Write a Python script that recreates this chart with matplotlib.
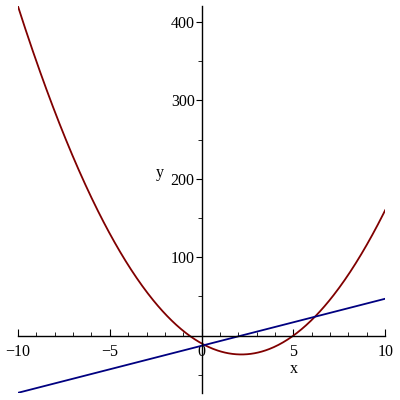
import numpy as np
import matplotlib.pyplot as plt
from matplotlib.ticker import MultipleLocator

# polynomial coefficients (highest power first)
parabola_coef = [3, -13, -10]
line_coef = [6, -13]
x_range = [-10, 10]
x_ticks = [-10, -5, 0, 5, 10]
y_ticks = [100, 200, 300, 400]

plt.rcParams['font.family'] = ['Liberation Serif', 'DejaVu Serif']

fig = plt.figure(figsize=(4, 4), dpi=100)
ax = fig.add_axes([0.045, 0.018, 0.918, 0.968])

xs = np.linspace(x_range[0], x_range[1], 400)
ax.plot(xs, np.polyval(parabola_coef, xs), color='#800000', lw=1.3)
ax.plot(xs, np.polyval(line_coef, xs), color='#000080', lw=1.3)

ax.set_xlim(x_range)
ax.set_ylim(-73, 421)

# maple style axes through the origin
for side in ['top', 'right']:
    ax.spines[side].set_visible(False)
ax.spines['left'].set_position(('data', 0))
ax.spines['bottom'].set_position(('data', 0))
ax.spines['left'].set_linewidth(1.0)
ax.spines['bottom'].set_linewidth(1.0)

ax.set_xticks(x_ticks)
ax.set_xticklabels(['\u221210', '\u22125', '0', '5', '10'])
ax.set_yticks(y_ticks)
ax.xaxis.set_minor_locator(MultipleLocator(1))
ax.yaxis.set_minor_locator(MultipleLocator(50))
ax.tick_params(axis='x', which='major', direction='in', length=5, labelsize=11.5, pad=6)
ax.tick_params(axis='x', which='minor', direction='in', length=3)
ax.tick_params(axis='y', which='major', direction='out', length=4, labelsize=11.5, pad=1)
ax.tick_params(axis='y', which='minor', direction='out', length=3)

ax.text(5, -42, 'x', fontsize=11.5, ha='center', va='center')
ax.text(-2.3, 207, 'y', fontsize=11.5, ha='center', va='center')

fig.savefig('out.png', dpi=100)
